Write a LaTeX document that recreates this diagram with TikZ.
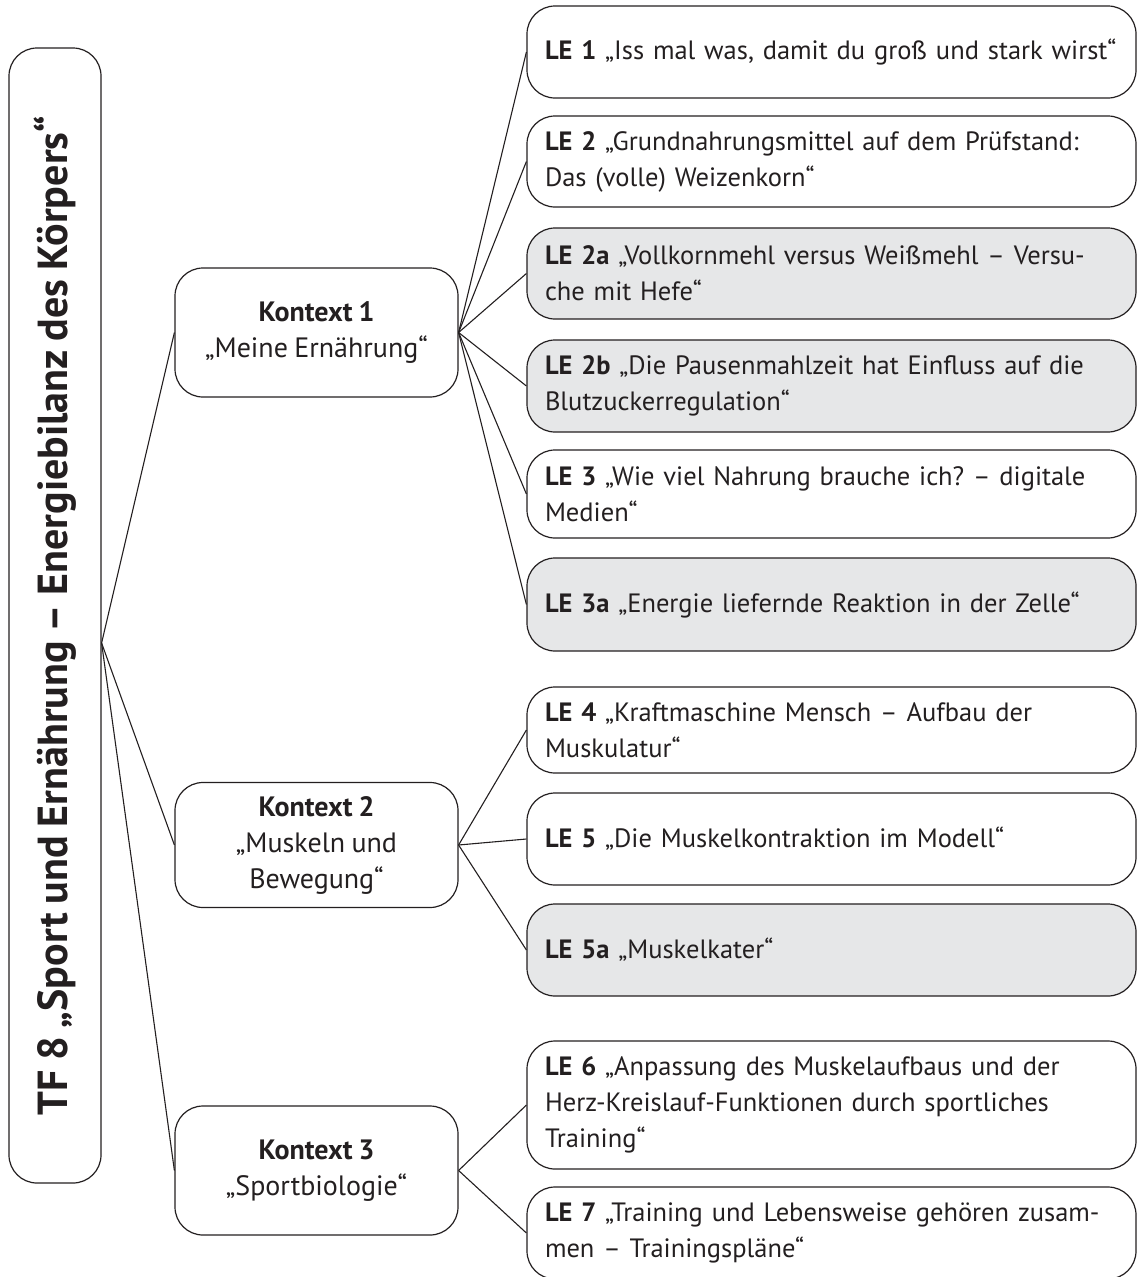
\documentclass[tikz,border=0pt]{standalone}
\usepackage{fontspec}
\setmainfont{PT Sans}[WordSpace=0.85]
\frenchspacing

\definecolor{ink}{HTML}{231F20}
\definecolor{legray}{HTML}{E6E7E8}

\begin{document}
\begin{tikzpicture}[x=1pt,y=-1pt,line width=1.2pt,
                    every node/.style={text=ink,font=\fontsize{26.5}{36}\selectfont},
                    box/.style={draw=ink,rounded corners=28pt},
                    kontext/.style={box,minimum width=283pt,align=center,inner sep=0pt,
                                    font=\fontsize{28}{36}\selectfont},
                    lebox/.style={box,text width=573pt,inner xsep=18pt,inner ysep=0pt,align=left},
                    extra/.style={lebox,fill=legray}]
  \tikzstyle{every edge}=[draw=ink,line width=1.1pt]

  \useasboundingbox (0,0) rectangle (1137,1277);

  \node[box,minimum width=92pt,minimum height=1135pt,inner sep=0pt] (tf) at (55,615.5)
    {\rotatebox{90}{\fontsize{42}{50}\selectfont\bfseries TF 8 „Sport und Ernährung – Energiebilanz des Körpers“}};
  \coordinate (hub) at (tf.east |- 0,643);

  \node[kontext,minimum height=129pt] (k1) at (316.5,332.5) {\textbf{Kontext 1}\\„Meine Ernährung“};
  \node[kontext,minimum height=125pt] (k2) at (316.5,845) {\textbf{Kontext 2}\\„Muskeln und\\Bewegung“};
  \node[kontext,minimum height=129pt] (k3) at (316.5,1170.5) {\textbf{Kontext 3}\\„Sportbiologie“};

  \node[lebox,minimum height=92pt]  (le1)  at (831.5,52)    {\textbf{LE 1} „Iss mal was, damit du groß und stark wirst“};
  \node[lebox,minimum height=91pt]  (le2)  at (831.5,161.5) {\textbf{LE 2} „Grundnahrungsmittel auf dem Prüfstand:\\Das (volle) Weizenkorn“};
  \node[extra,minimum height=91pt]  (le2a) at (831.5,273.5) {\textbf{LE 2a} „Vollkornmehl versus Weißmehl – Versu-\\che mit Hefe“};
  \node[extra,minimum height=92pt]  (le2b) at (831.5,386)   {\textbf{LE 2b} „Die Pausenmahlzeit hat Einfluss auf die\\Blutzuckerregulation“};
  \node[lebox,minimum height=88pt]  (le3)  at (831.5,494)   {\textbf{LE 3} „Wie viel Nahrung brauche ich? – digitale\\Medien“};
  \node[extra,minimum height=93pt]  (le3a) at (831.5,604.5) {\textbf{LE 3a} „Energie liefernde Reaktion in der Zelle“};
  \node[lebox,minimum height=86pt]  (le4)  at (831.5,730)   {\textbf{LE 4} „Kraftmaschine Mensch – Aufbau der\\Muskulatur“};
  \node[lebox,minimum height=92pt]  (le5)  at (831.5,839)   {\textbf{LE 5} „Die Muskelkontraktion im Modell“};
  \node[extra,minimum height=92pt]  (le5a) at (831.5,950)   {\textbf{LE 5a} „Muskelkater“};
  \node[lebox,minimum height=128pt] (le6)  at (831.5,1105)  {\textbf{LE 6} „Anpassung des Muskelaufbaus und der\\Herz-Kreislauf-Funktionen durch sportliches\\Training“};
  \node[lebox,minimum height=92pt]  (le7)  at (831.5,1233)  {\textbf{LE 7} „Training und Lebensweise gehören zusam-\\men – Trainingspläne“};

  \path (hub) edge (k1.west)
              edge (k2.west)
              edge (k3.west);

  \path (k1.east) edge (le1.west)
                  edge (le2.west)
                  edge (le2a.west)
                  edge (le2b.west)
                  edge (le3.west)
                  edge (le3a.west);

  \path (k2.east) edge (le4.west)
                  edge (le5.west)
                  edge (le5a.west);

  \path (k3.east) edge (le6.west)
                  edge (le7.west);

\end{tikzpicture}
\end{document}
